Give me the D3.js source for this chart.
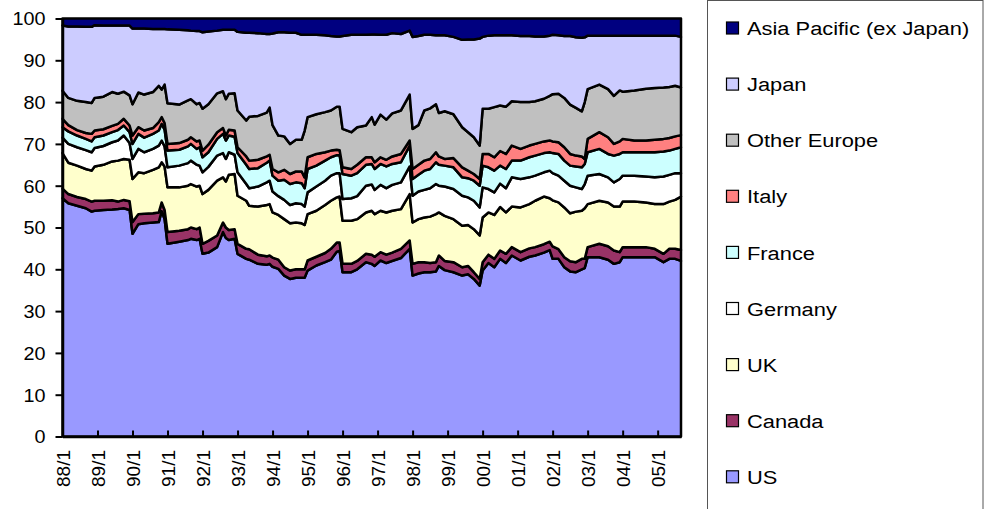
<!DOCTYPE html>
<html><head><meta charset="utf-8">
<script src="https://cdn.jsdelivr.net/npm/d3@7"></script>
<style>
body{margin:0;background:#fff;}
svg{display:block;font-family:"Liberation Sans",Arial,sans-serif;}
</style>
</head><body>
<svg id="chart" width="988" height="509"></svg>
<script>
// ---- data (shares, %) ----
const months = ["1988-01","1988-03","1988-06","1988-09","1988-11","1988-12","1989-03","1989-06","1989-08","1989-10",
"1989-12","1990-01","1990-03","1990-05","1990-08","1990-10","1990-11","1990-12","1991-01","1991-05",
"1991-08","1991-09","1991-11","1991-12","1992-01","1992-03","1992-06","1992-08","1992-09","1992-10",
"1992-12","1993-01","1993-04","1993-05","1993-08","1993-11","1993-12","1994-01","1994-03","1994-05",
"1994-07","1994-09","1994-11","1994-12","1995-01","1995-04","1995-07","1995-09","1995-11","1995-12",
"1996-01","1996-04","1996-06","1996-09","1996-11","1996-12","1997-02","1997-04","1997-06","1997-09",
"1997-12","1998-01","1998-03","1998-05","1998-07","1998-09","1998-10","1998-12","1999-03","1999-06",
"1999-08","1999-10","1999-12","2000-01","2000-03","2000-05","2000-07","2000-09","2000-11","2001-02",
"2001-05","2001-07","2001-10","2001-12","2002-01","2002-03","2002-05","2002-07","2002-09","2002-11",
"2002-12","2003-01","2003-05","2003-08","2003-10","2003-12","2004-01","2004-05","2004-09","2004-12",
"2005-03","2005-05","2005-07","2005-09"];

const us = [57.0,55.8,55.2,54.6,53.8,54.0,54.2,54.3,54.4,54.6, 54.2,48.5,50.8,51.0,51.2,51.3,53.9,52.0,46.1,46.6,
47.0,47.3,47.0,47.3,43.7,44.0,45.3,48.9,47.5,47.0, 47.3,43.7,42.5,42.3,41.3,41.1,41.3,40.6,40.1,38.5,
37.7,38.0,38.0,38.0,39.7,40.9,41.7,42.3,44.2,44.4, 39.3,39.3,40.0,41.7,41.3,40.8,42.1,41.5,42.0,42.7,
44.9,38.5,39.0,39.3,39.3,39.5,40.8,39.8,39.3,38.5, 38.8,37.7,36.1,39.7,41.5,40.5,42.5,41.5,43.3,42.1,
43.0,43.3,44.0,44.6,42.5,42.5,40.5,39.5,39.3,40.0, 40.3,42.9,42.9,42.3,41.3,41.7,42.9,42.9,42.9,42.9,
41.7,42.5,42.5,42.0];
const canada = [2.3,2.2,2.1,2.2,2.4,2.4,2.2,2.2,1.8,2.0, 2.1,2.8,2.4,2.3,2.2,2.3,2.1,2.2,2.8,2.6,
2.6,2.7,2.6,2.7,2.4,2.8,2.8,2.3,2.5,2.4, 2.3,2.4,2.4,2.5,2.2,2.0,2.0,2.2,2.2,2.0,
2.0,2.0,2.0,2.0,2.4,2.1,2.2,2.6,2.2,2.0, 2.0,2.0,2.0,2.0,2.2,2.2,2.0,2.0,2.0,2.2,
2.0,2.8,2.7,2.4,2.2,2.2,2.5,2.2,2.4,2.0, 2.0,1.6,1.6,2.0,2.0,2.0,2.0,2.2,2.0,2.0,
2.0,2.0,2.0,2.0,3.0,2.3,2.4,2.4,2.4,2.5, 2.2,2.4,3.2,3.2,3.2,2.4,2.4,2.4,2.4,2.0,
2.0,2.4,2.4,2.6];
const uk = [8.5,7.5,7.5,7.2,7.4,8.2,8.6,9.3,9.8,9.8, 9.9,10.3,10.0,9.7,10.4,10.8,9.6,10.4,10.7,10.4,
10.4,10.4,10.2,10.0,11.9,12.2,13.1,10.8,11.0,13.2, 13.2,11.5,11.5,10.4,11.5,12.3,12.3,10.8,10.7,11.5,
11.3,11.2,11.0,10.6,11.1,11.0,11.5,11.5,10.8,11.0, 10.3,10.3,10.0,9.9,10.5,10.2,9.9,10.1,10.0,9.5,
11.1,9.9,10.3,10.7,11.1,11.5,10.3,10.8,10.3,9.9, 9.8,10.3,10.4,10.7,10.1,10.5,10.4,9.9,9.7,10.7,
10.6,11.1,11.4,10.4,11.0,11.2,11.9,11.5,12.1,11.5, 12.1,10.3,10.3,10.5,10.5,10.9,10.9,10.9,10.7,10.7,
11.9,11.3,11.7,12.8];
const germany = [3.7,4.5,4.4,4.5,4.4,4.4,4.5,4.6,4.8,5.6, 4.0,4.8,5.6,5.0,5.0,5.2,5.2,4.8,4.8,5.2,
5.4,5.6,5.2,4.8,5.2,5.5,6.0,5.8,5.4,5.4, 4.6,5.6,4.0,4.2,4.8,5.4,5.6,5.0,4.5,4.6,
4.4,4.6,4.6,4.4,5.2,5.8,5.8,6.0,5.8,5.6, 5.2,5.4,5.5,6.4,6.3,5.8,6.2,5.8,6.2,6.4,
6.6,6.4,6.6,6.6,6.8,7.2,6.4,7.0,7.2,7.2, 6.6,6.8,6.7,7.2,5.6,5.4,5.6,5.8,7.0,6.8,
6.4,6.0,5.8,6.6,6.5,6.4,6.4,6.6,5.8,5.2, 5.8,6.8,6.4,6.0,5.8,6.6,6.2,6.2,6.2,6.4,
6.6,6.4,6.4,5.6];
const france = [2.5,3.0,2.8,2.7,2.6,2.6,2.5,2.4,2.5,2.4, 2.6,3.6,3.6,3.5,3.6,3.6,4.0,4.0,4.0,3.8,
4.0,4.0,3.8,4.4,3.6,3.5,4.0,4.6,4.4,4.0, 4.3,4.6,4.6,4.6,4.4,4.7,4.8,3.8,3.7,4.8,
5.0,5.0,5.0,4.4,5.6,5.0,4.8,4.4,4.3,4.3, 6.0,5.4,5.5,5.0,4.9,5.0,5.0,5.2,5.0,4.8,
5.0,4.0,4.0,4.6,4.6,5.2,5.0,5.0,5.2,4.4, 4.6,4.8,5.2,5.2,5.2,5.2,4.3,4.6,4.0,4.4,
4.8,4.8,4.6,4.4,4.8,5.2,4.8,4.8,5.0,5.2, 4.8,5.6,6.0,5.6,6.4,6.0,5.6,5.6,5.8,6.0,
6.0,5.8,5.8,6.2];
const italy = [2.0,1.5,1.3,1.4,1.8,1.6,1.5,1.5,1.5,1.6, 1.6,2.0,1.6,1.7,1.4,2.0,1.6,1.6,1.6,1.6,
1.6,1.6,1.8,1.6,1.6,1.8,1.6,1.4,1.2,1.4, 1.5,1.4,2.0,2.0,2.0,1.5,1.4,1.6,2.0,2.4,
2.4,2.6,2.8,2.6,2.8,2.8,2.0,1.6,1.3,1.2, 1.6,1.6,2.0,1.8,1.6,1.6,1.6,1.6,1.8,2.0,
1.2,2.4,2.4,2.4,2.4,2.4,2.0,1.6,2.2,2.4, 1.8,1.6,1.6,2.8,3.2,3.2,3.5,3.6,3.6,2.8,
2.8,2.8,2.8,2.8,2.8,2.8,3.2,2.8,2.6,2.6, 1.2,3.2,4.0,4.0,2.8,3.0,3.2,2.8,2.8,3.0,
3.0,3.0,3.0,2.9];
const otherEurope = [6.7,6.5,7.0,7.4,7.4,7.8,7.8,8.1,7.2,6.5, 7.2,7.5,8.3,8.6,8.6,8.7,6.6,9.2,9.7,9.2,
9.4,9.1,8.9,9.0,10.0,9.7,9.3,8.8,8.7,8.6, 8.9,8.8,8.6,10.5,10.5,10.5,11.3,10.5,8.8,8.0,
7.2,7.6,7.6,11.2,9.6,9.5,9.6,9.6,10.3,10.4, 9.2,8.8,9.0,7.6,9.6,9.0,10.2,9.6,10.3,10.4,
11.0,9.6,9.5,12.0,12.1,11.5,10.4,11.4,10.5,9.6, 9.2,8.8,8.0,10.8,10.8,12.0,10.9,11.3,10.6,11.2,
10.4,10.2,10.2,10.7,11.3,11.6,11.8,11.8,11.4,10.8, 13.6,11.9,11.4,11.5,11.5,12.2,11.3,12.0,12.4,12.4,
12.3,12.2,12.1,11.4];
const japan = [15.6,17.1,17.8,18.0,18.2,17.4,17.0,15.9,16.3,15.8, 16.7,18.1,15.3,15.8,15.1,13.6,14.5,13.3,17.7,17.9,
16.8,16.4,17.5,17.2,18.3,17.4,15.0,14.7,16.6,15.3, 15.2,18.8,21.0,20.1,19.8,18.8,17.6,21.9,24.7,24.9,
26.6,25.6,25.1,22.9,19.7,19.0,18.4,17.8,16.8,16.8, 22.2,23.3,22.1,21.7,19.8,21.6,19.1,20.3,19.2,18.3,
15.3,22.0,21.3,18.1,17.6,16.5,18.6,18.2,18.5,20.9, 22.2,23.4,25.6,17.2,17.5,17.2,16.8,17.1,15.8,15.8,
15.8,15.5,14.9,14.4,14.2,14.0,14.8,16.4,16.9,17.6, 15.5,12.8,11.7,12.8,14.4,13.1,13.4,13.1,12.7,12.5,
12.4,12.3,12.0,12.1];
const asiaPacific = [1.7,1.9,1.9,2.0,2.0,1.6,1.7,1.7,1.7,1.7, 1.7,2.4,2.4,2.4,2.5,2.5,2.5,2.5,2.6,2.7,
2.8,2.9,3.0,3.0,3.3,3.1,2.9,2.7,2.7,2.7, 2.7,3.2,3.4,3.4,3.5,3.7,3.7,3.6,3.3,3.3,
3.4,3.4,3.9,3.9,3.9,3.9,4.0,4.2,4.3,4.3, 4.2,3.9,3.9,3.9,3.8,3.8,3.9,3.9,3.5,3.7,
2.9,4.4,4.2,3.9,3.9,4.0,4.0,4.0,4.4,5.1, 5.0,5.0,4.8,4.4,4.1,4.0,4.0,4.0,4.0,4.2,
4.2,4.3,4.3,4.1,3.9,4.0,4.2,4.2,4.5,4.6, 4.5,4.1,4.1,4.1,4.1,4.1,4.1,4.1,4.1,4.1,
4.1,4.1,4.1,4.4];

const seriesNames = ["US","Canada","UK","Germany","France","Italy","Other Europe","Japan","Asia Pacific (ex Japan)"];
const seriesValues = [us, canada, uk, germany, france, italy, otherEurope, japan, asiaPacific];
const seriesColors = ["#9999FF","#993366","#FFFFCC","#FFFFFF","#CCFFFF","#FF8080","#C0C0C0","#CCCCFF","#000080"];
const xTickLabels = ["88/1","89/1","90/1","91/1","92/1","93/1","94/1","95/1","96/1","97/1","98/1","99/1","00/1","01/1","02/1","03/1","04/1","05/1"];
const yTicks = [0,10,20,30,40,50,60,70,80,90,100];

// ---- layout ----
const L = 62.5, R = 681, T = 18.5, B = 436.5;
const monthIndex = s => { const [yy, mm] = s.split("-").map(Number); return (yy - 1988) * 12 + (mm - 1); };
const rows = months.map((mo, i) => {
  const r = { m: monthIndex(mo) };
  seriesNames.forEach((n, k) => r[n] = seriesValues[k][i]);
  return r;
});

const x = d3.scaleLinear().domain([0, monthIndex(months[months.length - 1])]).range([L, R]);
const y = d3.scaleLinear().domain([0, 100]).range([B, T]);

const svg = d3.select("#chart");

const stacked = d3.stack().keys(seriesNames)(rows);
const area = d3.area().x(d => x(d.data.m)).y0(d => y(d[0])).y1(d => y(d[1]));

svg.append("g").selectAll("path").data(stacked).join("path")
  .attr("d", area)
  .attr("fill", (d, i) => seriesColors[i])
  .attr("stroke", "#000")
  .attr("stroke-width", 2.5)
  .attr("stroke-linejoin", "round");

// y axis
const yAxis = svg.append("g").attr("transform", `translate(${L},0)`)
  .call(d3.axisLeft(y).tickValues(yTicks).tickSize(7).tickSizeOuter(0).tickFormat(d3.format("d")));
yAxis.select(".domain").attr("stroke", "#000").attr("stroke-width", 2.5);
yAxis.selectAll(".tick line").attr("stroke", "#000").attr("stroke-width", 2);
yAxis.selectAll(".tick text")
  .attr("x", 0).attr("dy", "0.35em")
  .attr("transform", "translate(-17,0) scale(1.1,1)")
  .attr("font-size", 18).attr("fill", "#000")
  .attr("font-family", "'Liberation Sans', Arial, sans-serif");

// x axis
const tickMonths = xTickLabels.map((t, i) => i * 12);
const xAxis = svg.append("g").attr("transform", `translate(0,${B})`)
  .call(d3.axisBottom(x).tickValues(tickMonths).tickSize(-6).tickSizeOuter(0).tickFormat((d, i) => xTickLabels[i]));
xAxis.select(".domain").attr("stroke", "#000").attr("stroke-width", 2.5);
xAxis.selectAll(".tick line").attr("stroke", "#000").attr("stroke-width", 2);
xAxis.selectAll(".tick text")
  .attr("x", 0).attr("y", 0).attr("dy", "0.35em")
  .attr("text-anchor", "end")
  .attr("transform", "translate(0,13.5) rotate(-90)")
  .attr("font-size", 19).attr("fill", "#000")
  .attr("font-family", "'Liberation Sans', Arial, sans-serif");

// legend
const lg = svg.append("g");
lg.append("rect").attr("x", 707.5).attr("y", 0.5).attr("width", 275.5).attr("height", 520)
  .attr("fill", "#fff").attr("stroke", "#555").attr("stroke-width", 1);
const legendOrder = seriesNames.map((n, i) => i).reverse();
legendOrder.forEach((k, j) => {
  const cy = 28.5 + j * 56.1;
  lg.append("rect").attr("x", 726.5).attr("y", cy - 6.5).attr("width", 12).attr("height", 12)
    .attr("fill", seriesColors[k]).attr("stroke", "#000").attr("stroke-width", 1.2);
  lg.append("text").attr("x", 0).attr("y", 0).attr("dy", "0.35em")
    .attr("transform", `translate(747,${cy}) scale(1.15,1)`)
    .attr("font-size", 19).attr("fill", "#000")
    .text(seriesNames[k]);
});
</script>
</body></html>
